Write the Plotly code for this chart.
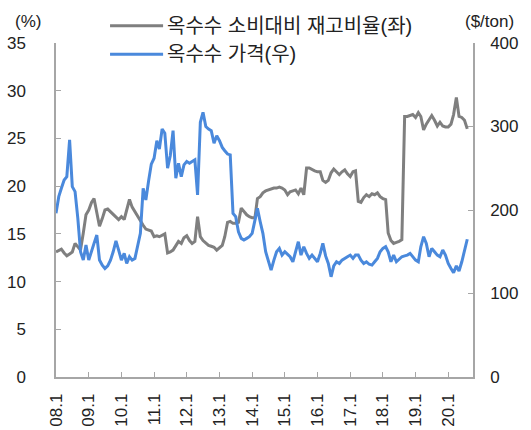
import pandas as pd
import plotly.graph_objects as go

# 옥수수 소비대비 재고비율 (%), monthly from 2008.1
stock_ratio = [
    13.1, 13.3, 13.4, 13.0, 12.7, 12.9, 13.1, 14.0, 13.6, 13.3,
    15.1, 17.0, 17.5, 18.3, 18.7, 17.0, 15.8, 16.6, 17.5, 17.6,
    17.3, 17.0, 16.7, 16.5, 16.8, 16.5, 17.5, 18.6, 17.8, 17.3,
    16.8, 16.3, 15.9, 15.5, 15.4, 15.3, 14.7, 14.8, 14.7, 14.9,
    15.0, 13.0, 13.1, 13.3, 13.8, 14.2, 14.0, 14.6, 14.8, 14.3,
    14.0, 14.2, 16.8, 14.7, 14.3, 14.0, 13.8, 13.7, 13.6, 13.3,
    13.6, 13.8, 14.7, 16.2, 16.3, 16.1, 16.1, 16.2, 17.7, 17.3,
    17.0, 16.8, 16.7, 16.7, 18.7, 18.9, 19.3, 19.5, 19.6, 19.7,
    19.8, 19.8, 19.9, 19.8, 19.6, 19.1, 19.4, 19.5, 19.6, 19.2,
    19.8, 19.1, 21.9, 21.9, 21.7, 21.6, 21.5, 21.5, 20.6, 20.4,
    20.6, 21.4, 21.8, 21.5, 21.2, 21.5, 21.7, 21.3, 21.0, 21.5,
    21.6, 18.4, 18.3, 18.8, 19.1, 18.9, 19.2, 19.1, 19.3, 18.9,
    18.7, 18.6, 15.1, 14.3, 14.0, 14.1, 14.2, 14.4, 27.3, 27.3,
    27.4, 27.5, 27.2, 27.7, 27.3, 25.9, 26.5, 27.0, 27.4, 26.9,
    26.3, 26.7, 26.3, 26.2, 26.2, 26.5, 27.5, 29.3, 27.3, 27.2,
    26.9, 26.0,
]

# 옥수수 가격 ($/ton), monthly from 2008.1
corn_price = [
    196, 216, 226, 236, 240, 284, 228, 222, 190, 150,
    140, 158, 140, 152, 160, 170, 140, 134, 130, 133,
    140, 150, 163, 152, 140, 148, 136, 144, 140, 142,
    156, 172, 226, 212, 235, 255, 262, 283, 273, 297,
    292, 250, 265, 295, 238, 256, 240, 254, 258, 256,
    258, 260, 218, 305, 317, 300, 297, 295, 280, 289,
    283, 275, 271, 267, 266, 196, 192, 174, 166, 164,
    166, 168, 172, 186, 202, 186, 172, 150, 140, 128,
    140, 150, 154, 146, 150, 147, 144, 138, 150, 162,
    146, 156, 148, 142, 146, 142, 138, 148, 160, 145,
    136, 120, 133, 138, 136, 140, 142, 144, 146, 142,
    146, 146, 140, 136, 138, 135, 134, 138, 142, 150,
    154, 156, 150, 138, 146, 138, 141, 144, 145, 146,
    148, 144, 140, 138, 156, 168, 160, 144, 154, 150,
    146, 144, 152, 146, 136, 130, 125, 133, 127, 138,
    150, 165,
]

tick_years = list(range(2008, 2021))
tick_labels = ["08.1", "09.1", "10.1", "11.1", "12.1", "13.1", "14.1",
               "15.1", "16.1", "17.1", "18.1", "19.1", "20.1"]

series_names = ["옥수수 소비대비 재고비율(좌)", "옥수수 가격(우)"]
GRAY = "#7f7f7f"
BLUE = "#4a89dc"
AXIS = "#a6a6a6"
FONT = "Liberation Sans, Arial, Noto Sans CJK KR, sans-serif"

dates = pd.date_range("2008-01-01", periods=len(stock_ratio), freq="MS")

fig = go.Figure()
fig.add_trace(go.Scatter(x=dates, y=stock_ratio, mode="lines", name=series_names[0],
                         line=dict(color=GRAY, width=3), yaxis="y"))
fig.add_trace(go.Scatter(x=dates, y=corn_price, mode="lines", name=series_names[1],
                         line=dict(color=BLUE, width=3), yaxis="y2"))

tickvals = [pd.Timestamp(f"{y}-01-01") for y in tick_years]

fig.update_layout(
    width=531, height=430,
    margin=dict(l=56, r=58, t=43, b=53),
    paper_bgcolor="white", plot_bgcolor="white",
    showlegend=False,
    font=dict(family=FONT, size=17, color="#222222"),
    xaxis=dict(
        type="date", range=["2008-01-01", "2020-10-04"], automargin=False,
        tickvals=tickvals, ticktext=tick_labels, tickangle=-90,
        ticks="inside", ticklen=5, tickcolor=AXIS, tickwidth=1,
        showline=True, linecolor=AXIS, linewidth=1.5,
        showgrid=False, zeroline=False, ticklabelstandoff=8,
        tickfont=dict(size=17),
    ),
    yaxis=dict(
        range=[0, 35], dtick=5, ticks="inside", ticklen=5, tickcolor=AXIS,
        showline=True, linecolor=AXIS, linewidth=1.5, automargin=False,
        showgrid=False, zeroline=False, ticklabelstandoff=25,
        tickfont=dict(size=17),
    ),
    yaxis2=dict(
        range=[0, 400], dtick=100, overlaying="y", side="right",
        ticks="inside", ticklen=5, tickcolor=AXIS, automargin=False,
        showline=True, linecolor=AXIS, linewidth=1.5,
        showgrid=False, zeroline=False, ticklabelstandoff=12,
        tickfont=dict(size=17),
    ),
)

# axis unit titles
fig.add_annotation(text="(%)", xref="paper", yref="paper", x=-0.068, y=1.063,
                   xanchor="center", yanchor="middle", showarrow=False,
                   font=dict(size=17))
fig.add_annotation(text="($/ton)", xref="paper", yref="paper", x=1.039, y=1.063,
                   xanchor="center", yanchor="middle", showarrow=False,
                   font=dict(size=17))

# legend (drawn manually to match line sample length)
leg_y = [1.0515, 0.966]
for name, color, yy in zip(series_names, [GRAY, BLUE], leg_y):
    fig.add_shape(type="line", xref="paper", yref="paper",
                  x0=0.1296, x1=0.2568, y0=yy, y1=yy,
                  line=dict(color=color, width=3))
    fig.add_annotation(text=name, xref="paper", yref="paper", x=0.262, y=yy,
                       xanchor="left", yanchor="middle", showarrow=False,
                       font=dict(size=20))

fig.write_html("out.html", config={"displayModeBar": False},
               post_script="document.body.style.margin='0';")
